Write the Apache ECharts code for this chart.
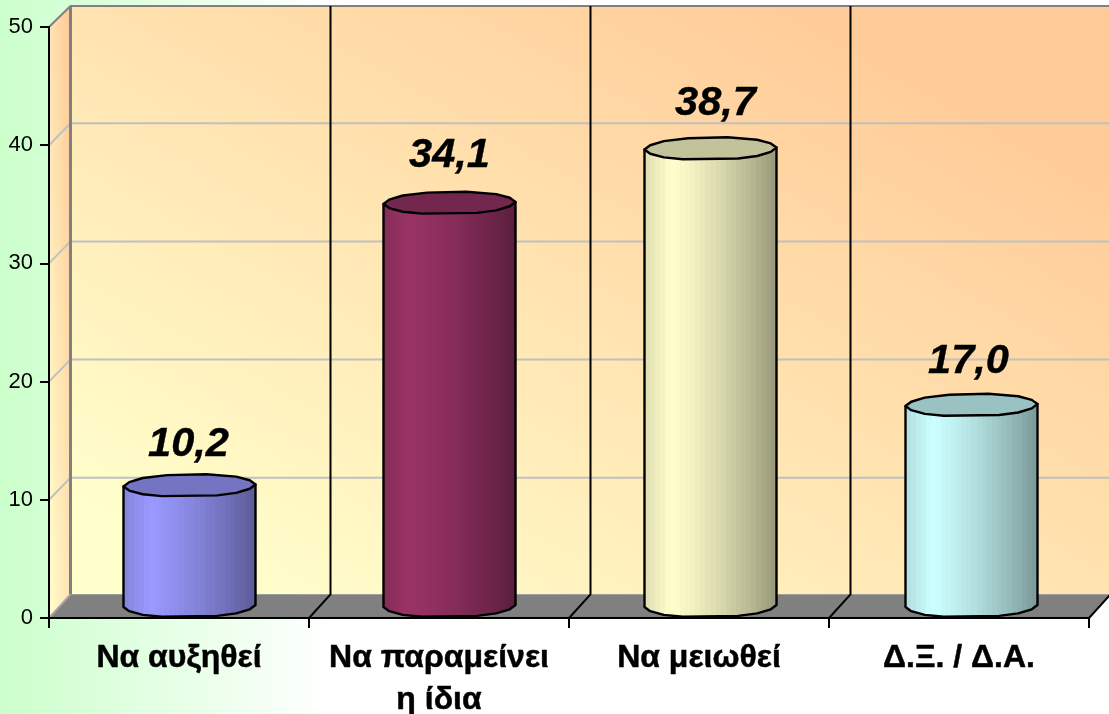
<!DOCTYPE html>
<html>
<head>
<meta charset="utf-8">
<style>html,body{margin:0;padding:0;background:#fff}#c{width:1109px;height:714px}</style>
<script src="https://cdn.jsdelivr.net/npm/echarts@6/dist/echarts.min.js"></script>
</head>
<body>
<div id="c"></div>
<script>
const categories = ['Να αυξηθεί', 'Να παραμείνει\nη ίδια', 'Να μειωθεί', 'Δ.Ξ. / Δ.Α.'];
const values = [10.2, 34.1, 38.7, 17.0];
const valueLabels = ['10,2', '34,1', '38,7', '17,0'];
const yTicks = [10, 20, 30, 40];
const barColors = ['#9999ff', '#993366', '#ffffcc', '#ccffff'];

const FONT = '"Liberation Sans", Arial, sans-serif';
const DX = 21.5, RX = 66, RY = 11.5, MIDX = 10.5, MIDY = 12, TILT = 1;
const barNudge = [0, 0, 1, 2];
const labelShiftX = [-1, 0, 5, -3];
const labelLift = [41, 47, 45, 43];
const facet = [0, 22, 45, 65, 115, 135, 158, 180, 202, 225, 250, 285, 315, 338];
const facetR = [1, 0.985, 1, 0.99, 0.99, 1, 0.985, 1, 0.985, 1, 0.99, 0.99, 1, 0.985];

function depthY(v) { return v === 0 ? 23.7 : (v === 50 ? 21 : 22); }
function cornerGradient(x, y, w, h, stops) {
  const L = Math.hypot(w, h), nx = h / L, ny = -w / L, half = w * h / L;
  const cx = x + w / 2, cy = y + h / 2;
  return new echarts.graphic.LinearGradient(cx - half * nx, cy - half * ny, cx + half * nx, cy + half * ny, stops, true);
}
function shade(hex, f) {
  const n = parseInt(hex.slice(1), 16);
  const p = [n >> 16 & 255, n >> 8 & 255, n & 255].map(c => Math.round(c * f));
  return 'rgb(' + p.join(',') + ')';
}
function bands(hex) {
  const stops = [], N = 26;
  for (let i = 0; i < N; i++) {
    const t = i / N, t2 = (i + 1) / N, m = (t + t2) / 2;
    const f = m < 0.2 ? 0.87 + 0.13 * m / 0.2 : 1 - 0.4 * Math.pow((m - 0.2) / 0.8, 1.25);
    const c = shade(hex, f);
    stops.push({ offset: t, color: c }, { offset: t2, color: c });
  }
  return stops;
}
function ring(cx, cy, from, to) {
  const pts = [];
  facet.forEach((d, i) => {
    if (d < from || d > to) return;
    const a = d * Math.PI / 180, w = facetR[i];
    const ux = w * Math.cos(a);
    pts.push([cx + RX * ux, cy + RY * w * Math.sin(a) - TILT * ux]);
  });
  return pts;
}

function renderBackdrop(params, api) {
  const band = api.size([1, 0])[0];
  const xs = categories.map((_, i) => api.coord([i, 0])[0] - band / 2);
  xs.push(xs[xs.length - 1] + band);
  const x0 = xs[0], xEnd = xs[4], y0 = api.coord([0, 0])[1], y50 = api.coord([0, 50])[1];
  const backBottom = y0 - depthY(0), backTop = y50 - depthY(50);
  const wallRight = xEnd + DX;
  const stops = [{ offset: 0, color: '#ffffcc' }, { offset: 0.08, color: '#ffffcc' }, { offset: 0.85, color: '#ffcc99' }, { offset: 1, color: '#ffcc99' }];
  const ch = [];
  ch.push({ type: 'rect', shape: { x: x0 + DX, y: backTop, width: wallRight - x0 - DX, height: backBottom - backTop },
    style: { fill: cornerGradient(x0 + DX, backTop, wallRight - x0 - DX, backBottom - backTop, stops) } });
  ch.push({ type: 'polygon', shape: { points: [[x0, y0], [x0 + DX, backBottom], [x0 + DX, backTop], [x0, y50]] },
    style: { fill: cornerGradient(x0, backTop, DX, y0 - backTop, [{ offset: 0, color: '#ffffcc' }, { offset: 1, color: '#ffc896' }]) } });
  ch.push({ type: 'polygon', shape: { points: [[x0, y0], [xEnd, y0], [wallRight, backBottom], [x0 + DX, backBottom]] },
    style: { fill: '#808080' } });
  yTicks.forEach(v => {
    const y = api.coord([0, v])[1], by = y - depthY(v);
    ch.push({ type: 'polyline', shape: { points: [[x0, y], [x0 + DX, by], [wallRight, by]] },
      style: { fill: 'none', stroke: '#c0c0c0', lineWidth: 2 } });
  });
  ch.push({ type: 'line', shape: { x1: x0, y1: y0, x2: x0 + DX, y2: backBottom }, style: { stroke: '#a6a6a6', lineWidth: 2 } });
  ch.push({ type: 'polyline', shape: { points: [[x0, y50], [x0 + DX, backTop], [wallRight, backTop]] }, style: { fill: 'none', stroke: '#808080', lineWidth: 2 } });
  ch.push({ type: 'line', shape: { x1: x0 + DX, y1: backTop, x2: x0 + DX, y2: backBottom }, style: { stroke: '#808080', lineWidth: 3 } });
  for (let i = 1; i <= 4; i++) {
    const x = xs[i];
    ch.push({ type: 'polyline', shape: { points: [[x, y0], [x + DX, backBottom], [x + DX, backTop]] },
      style: { fill: 'none', stroke: '#000', lineWidth: 2 } });
  }
  return { type: 'group', children: ch };
}

function renderCylinder(params, api) {
  const i = api.value(0), v = api.value(1);
  const base = api.coord([i, 0]), top = api.coord([i, v]);
  const cx = base[0] + MIDX + barNudge[i], by = base[1] - MIDY, ty = top[1] - MIDY;
  const lower = ring(cx, by, 0, 180);
  const body = [[cx + RX, ty - TILT]].concat(lower).concat([[cx - RX, ty + TILT]]);
  const rim = ring(cx, ty, 0, 360);
  const color = barColors[i];
  return { type: 'group', children: [
    { type: 'polygon', shape: { points: body },
      style: { fill: new echarts.graphic.LinearGradient(cx - RX, 0, cx + RX, 0, bands(color), true), stroke: '#000', lineWidth: 2.4, lineJoin: 'round' } },
    { type: 'polygon', shape: { points: rim },
      style: { fill: shade(color, 0.76), stroke: '#000', lineWidth: 2.4, lineJoin: 'round' } },
    { type: 'text', x: cx + labelShiftX[i], y: ty - labelLift[i],
      style: { text: valueLabels[i], font: 'italic bold 41.5px ' + FONT, fill: '#000', align: 'center', verticalAlign: 'middle', stroke: '#000', lineWidth: 0.4 } }
  ] };
}

const chart = echarts.init(document.getElementById('c'), null, { renderer: 'canvas' });
chart.setOption({
  animation: false,
  backgroundColor: new echarts.graphic.LinearGradient(0, 0, 1, 0, [
    { offset: 0, color: '#ccffcc' }, { offset: 0.3, color: '#ffffff' }, { offset: 1, color: '#ffffff' }]),
  grid: { left: 49, top: 27, width: 1040, height: 591, containLabel: false, outerBoundsMode: 'none' },
  xAxis: {
    type: 'category', data: categories, z: 5,
    axisLine: { show: true, lineStyle: { color: '#000', width: 2 } },
    axisTick: { show: true, alignWithLabel: false, length: 10, lineStyle: { color: '#000', width: 2 } },
    axisLabel: { interval: 0, margin: 19, color: '#000', fontFamily: FONT, fontWeight: 'bold', fontSize: 32, lineHeight: 42, textBorderColor: '#000', textBorderWidth: 0.5 },
    splitLine: { show: false }
  },
  yAxis: {
    type: 'value', min: 0, max: 50, interval: 10, z: 5,
    axisLine: { show: true, onZero: false, lineStyle: { color: '#000', width: 2 } },
    axisTick: { show: true, length: 9, lineStyle: { color: '#000', width: 2 } },
    axisLabel: { margin: 16, color: '#000', fontFamily: FONT, fontSize: 22 },
    splitLine: { show: false }
  },
  series: [
    { type: 'custom', name: 'wall', z: 1, silent: true, clip: false, renderItem: renderBackdrop, data: [[0, 0]], encode: { x: 0, y: 1 } },
    { type: 'custom', name: 'values', z: 3, silent: true, clip: false, renderItem: renderCylinder,
      data: values.map((v, i) => [i, v]), encode: { x: 0, y: 1 } }
  ]
});
</script>
</body>
</html>
